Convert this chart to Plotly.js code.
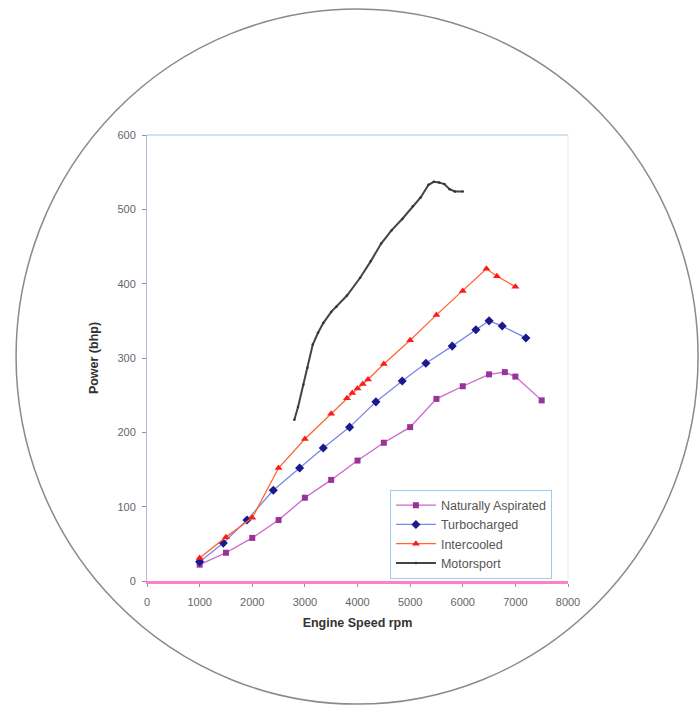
<!DOCTYPE html>
<html>
<head>
<meta charset="utf-8">
<script src="https://cdn.plot.ly/plotly-3.0.1.min.js"></script>
<style>
  html, body { margin: 0; padding: 0; background: #ffffff; }
  #chart { width: 699px; height: 710px; }
</style>
</head>
<body>
<div id="chart"></div>
<script>
// ---- Data ----
const seriesNames = ["Naturally Aspirated", "Turbocharged", "Intercooled", "Motorsport"];

const naX = [1000, 1500, 2000, 2500, 3000, 3500, 4000, 4500, 5000, 5500, 6000, 6500, 6800, 7000, 7500];
const naY = [22, 38, 58, 82, 112, 136, 162, 186, 207, 245, 262, 278, 281, 275, 243];

const turboX = [1000, 1450, 1900, 2400, 2900, 3350, 3850, 4350, 4850, 5300, 5800, 6250, 6500, 6750, 7200];
const turboY = [26, 51, 82, 122, 152, 179, 207, 241, 269, 293, 316, 338, 350, 343, 327];

const icX = [1000, 1500, 2000, 2500, 3000, 3500, 3800, 3900, 4000, 4100, 4200, 4500, 5000, 5500, 6000, 6450, 6650, 7000];
const icY = [31, 59, 85, 152, 191, 225, 246, 253, 259, 265, 271, 292, 324, 358, 390, 420, 410, 396];

const msX = [2800, 2870, 2970, 3050, 3150, 3250, 3350, 3500, 3600, 3800, 4050, 4250, 4450, 4650, 4850, 5050, 5200, 5350, 5450, 5550, 5650, 5750, 5850, 6000];
const msY = [217, 234, 264, 287, 318, 334, 347, 362, 369, 384, 408, 430, 454, 472, 487, 504, 516, 533, 537, 536, 534, 527, 524, 524];

const xTickVals = [0, 1000, 2000, 3000, 4000, 5000, 6000, 7000, 8000];
const yTickVals = [0, 100, 200, 300, 400, 500, 600];

const xTitle = "Engine Speed rpm";
const yTitle = "Power (bhp)";

// ---- Traces ----
const traces = [
  {
    x: naX, y: naY, name: seriesNames[0], type: "scatter", mode: "lines+markers",
    line: { color: "#cc66cc", width: 1.3 },
    marker: { symbol: "square", size: 6, color: "#993399" }
  },
  {
    x: turboX, y: turboY, name: seriesNames[1], type: "scatter", mode: "lines+markers",
    line: { color: "#7a88e8", width: 1.3 },
    marker: { symbol: "diamond", size: 7, color: "#1a1a8c" }
  },
  {
    x: icX, y: icY, name: seriesNames[2], type: "scatter", mode: "lines+markers",
    line: { color: "#ff6633", width: 1.3 },
    marker: { symbol: "triangle-up", size: 7, color: "#ff1a1a" }
  },
  {
    x: msX, y: msY, name: seriesNames[3], type: "scatter", mode: "lines+markers",
    line: { color: "#444444", width: 2 },
    marker: { symbol: "circle", size: 2.5, color: "#333333" }
  }
];

const tickFont = { family: "Arial, Liberation Sans, sans-serif", size: 11, color: "#666666" };
const titleFont = { family: "Arial, Liberation Sans, sans-serif", size: 12.5, color: "#333333", weight: "bold" };

const layout = {
  width: 699,
  height: 710,
  margin: { l: 147, r: 131, t: 135, b: 129 },
  paper_bgcolor: "#ffffff",
  plot_bgcolor: "#ffffff",
  showlegend: true,
  legend: {
    x: 0.577, y: 0.205, xanchor: "left", yanchor: "top",
    bordercolor: "#99ccee", borderwidth: 1, bgcolor: "#ffffff",
    font: { family: "Arial, Liberation Sans, sans-serif", size: 12.5, color: "#555555" },
    itemwidth: 40,
    tracegroupgap: 0
  },
  xaxis: {
    range: [0, 8000],
    tickvals: xTickVals,
    ticktext: xTickVals.map(String),
    showgrid: false, zeroline: false,
    showline: true, linecolor: "#ff80c8", linewidth: 3,
    ticks: "outside", ticklen: 3, tickcolor: "#999999",
    ticklabelstandoff: 6,
    tickfont: tickFont,
    title: { text: xTitle, font: titleFont, standoff: 12 },
    fixedrange: true
  },
  yaxis: {
    range: [0, 600],
    tickvals: yTickVals,
    ticktext: yTickVals.map(String),
    showgrid: false, zeroline: false,
    showline: true, linecolor: "#b8b8d8", linewidth: 1,
    ticks: "outside", ticklen: 4, tickcolor: "#8888cc",
    ticklabelstandoff: 4,
    tickfont: tickFont,
    title: { text: yTitle, font: titleFont, standoff: 16 },
    fixedrange: true
  },
  shapes: [
    // surrounding circular frame
    { type: "circle", xref: "paper", yref: "paper", layer: "below",
      x0: -0.311, x1: 1.309, y0: -0.276, y1: 1.2825,
      line: { color: "#8a8a8a", width: 1.5 } },
    // top border of plot area
    { type: "line", xref: "paper", yref: "paper", x0: 0, x1: 1, y0: 1, y1: 1,
      line: { color: "#cfe3f7", width: 2 } },
    // right border of plot area
    { type: "line", xref: "paper", yref: "paper", x0: 1, x1: 1, y0: 0, y1: 1,
      line: { color: "#e6e6e6", width: 1 } }
  ]
};

Plotly.newPlot("chart", traces, layout, { displayModeBar: false, staticPlot: true });
</script>
</body>
</html>
